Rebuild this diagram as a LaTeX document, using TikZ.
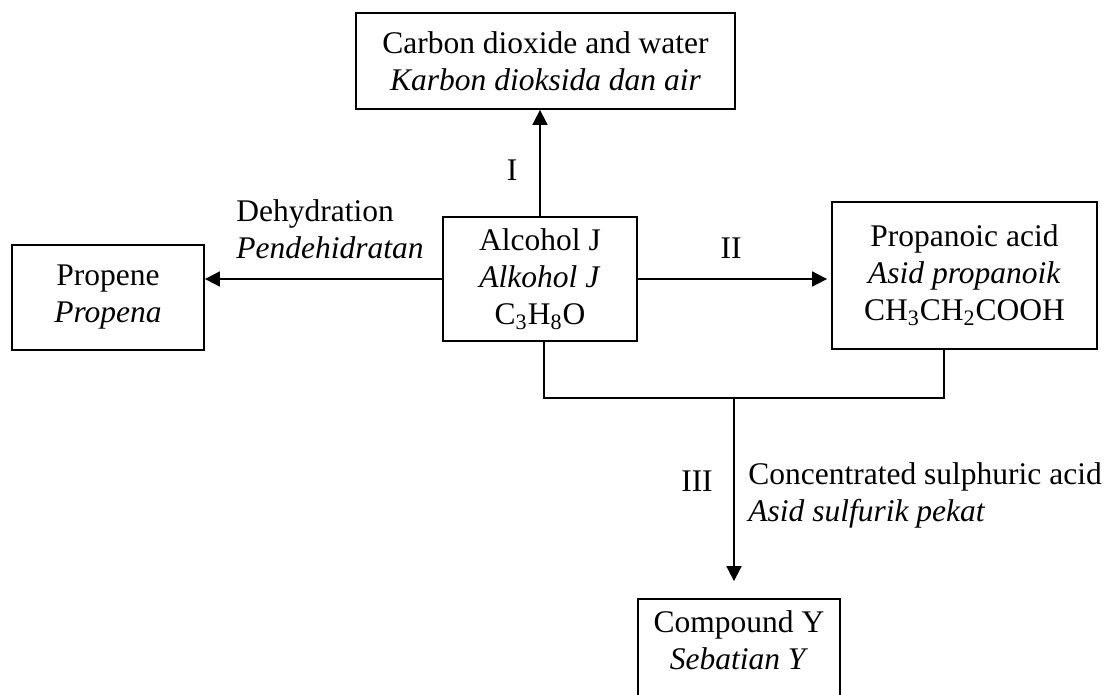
\documentclass[tikz,border=0pt]{standalone}
\usepackage{fontspec}
\setmainfont{Liberation Serif}
\usepackage{tikz}
\usetikzlibrary{arrows.meta,calc}
\tikzset{chembox/.style={draw, line width=0.9pt, align=center, inner sep=0pt},
flow/.style={line width=0.9pt, -{Triangle[length=7.5pt,width=7.5pt]}},
joinline/.style={line width=0.9pt},
steplabel/.style={inner sep=0pt}}

\begin{document}
\begin{tikzpicture}[x=0.5pt, y=-0.5pt, font=\fontsize{15.75}{18.5}\selectfont]
    \useasboundingbox (0,0) rectangle (1110,695);

    % Boxes
    \node[chembox, minimum width=189.5pt, minimum height=48pt] (co2) at (545.5,61) {Carbon dioxide and water\\\textit{Karbon dioksida dan air}};
    \node[chembox, minimum width=97pt, minimum height=62pt] (alc) at (540,279) {Alcohol J\\\textit{Alkohol J}\\C\textsubscript{3}H\textsubscript{8}O};
    \node[chembox, minimum width=96pt, minimum height=52.5pt] (propene) at (108,297.5) {Propene\\\textit{Propena}};
    \node[chembox, minimum width=132.5pt, minimum height=73.5pt] (propanoic) at (964.5,275.5) {Propanoic acid\\\textit{Asid propanoik}\\CH\textsubscript{3}CH\textsubscript{2}COOH};
    \node[chembox, minimum width=101pt, minimum height=50.5pt, text depth=9pt] (cmpd) at (739,649.5) {Compound Y\\\textit{Sebatian Y}};

    % Arrows
    \draw[flow] (alc.north) -- (alc.north |- co2.south);
    \draw[flow] (alc.west) -- (alc.west -| propene.east);
    \draw[flow, shorten >=2pt] (alc.east) -- (alc.east -| propanoic.west);

    \coordinate (alcfoot) at ($(alc.south)+(4,0)$);
    \coordinate (acidfoot) at ($(propanoic.south)+(-20.5,0)$);
    \coordinate (fork) at (734,398);
    \draw[joinline] (alcfoot) |- (fork) -| (acidfoot);
    \draw[flow, shorten >=8.5pt] (fork) -- (fork |- cmpd.north);

    % Labels
    \node[steplabel] (lblI) at (512,170) {I};
    \node[steplabel, anchor=west, align=left] (lbldehyd) at (236,229) {Dehydration\\\textit{Pendehidratan}};
    \node[steplabel] (lblII) at (731,248) {II};
    \node[steplabel] (lblIII) at (697,481) {III};
    \node[steplabel, anchor=west, align=left] (lblacid) at (748,495) {Concentrated sulphuric acid\\\textit{Asid sulfurik pekat}};
\end{tikzpicture}
\end{document}
